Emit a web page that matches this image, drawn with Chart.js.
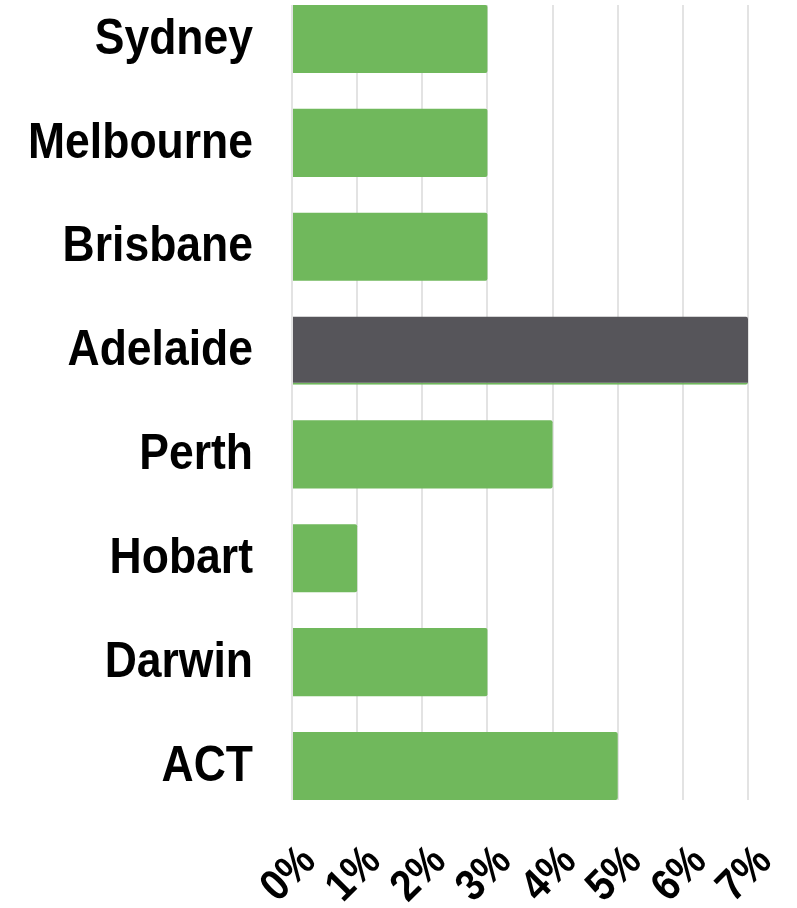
<!DOCTYPE html>
<html>
<head>
<meta charset="utf-8">
<script src="https://cdn.jsdelivr.net/npm/chart.js@4"></script>
<style>
  html, body { margin: 0; padding: 0; background: #fff; }
  #wrap { width: 797px; height: 908px; }
</style>
</head>
<body>
<div id="wrap"><canvas id="myChart"></canvas></div>
<script>
// cities and their values (percent)
const cities = ['Sydney', 'Melbourne', 'Brisbane', 'Adelaide', 'Perth', 'Hobart', 'Darwin', 'ACT'];
const values = [3, 3, 3, 7, 4, 1, 3, 5];
const xTicks = [0, 1, 2, 3, 4, 5, 6, 7];
const highlight = 'Adelaide';

const FONT = '"Liberation Sans", Arial, sans-serif';
const GREEN = '#70b85c';
const DARK = '#56555a';
const GRID = '#e3e3e3';
const SQUEEZE = 0.89; // no condensed font installed, so squeeze text horizontally

// draw all text a bit narrower (condensed look)
const origFillText = CanvasRenderingContext2D.prototype.fillText;
CanvasRenderingContext2D.prototype.fillText = function (text, x, y, maxWidth) {
  this.save();
  this.translate(x, y);
  this.scale(SQUEEZE, 1);
  origFillText.call(this, text, 0, 0);
  this.restore();
};

Chart.defaults.font.family = FONT;
Chart.defaults.color = '#000';

const ctx = document.getElementById('myChart').getContext('2d');

const myChart = new Chart(ctx, {
  type: 'bar',
  data: {
    labels: cities,
    datasets: [{
      data: values,
      backgroundColor: cities.map(c => c === highlight ? DARK : GREEN),
      // the highlighted bar keeps a thin green edge underneath
      borderColor: GREEN,
      borderWidth: cities.map(c => c === highlight ? { bottom: 2, top: 0, left: 0, right: 0 } : 0),
      borderRadius: 2,
      borderSkipped: 'start',
      categoryPercentage: 0.8,
      barPercentage: 0.82,
      clip: false
    }]
  },
  options: {
    indexAxis: 'y',
    responsive: true,
    maintainAspectRatio: false,
    animation: false,
    layout: { padding: { top: 5, right: 49, left: 0, bottom: 0 } },
    plugins: {
      legend: { display: false },
      tooltip: { enabled: false }
    },
    scales: {
      x: {
        type: 'linear',
        min: 0,
        max: 7,
        afterBuildTicks: s => { s.ticks = xTicks.map(v => ({ value: v })); },
        afterFit: s => { s.height = 142; s.paddingLeft = 0; s.paddingRight = 0; },
        border: { display: false },
        grid: { color: GRID, lineWidth: 2, tickLength: 34 },
        ticks: {
          autoSkip: false,
          maxRotation: 45,
          minRotation: 45,
          padding: 36,
          labelOffset: 17,
          font: { size: 44, weight: 'bold' },
          callback: v => v + '%'
        }
      },
      xTop: {
        type: 'linear',
        position: 'top',
        min: 0,
        max: 7,
        afterBuildTicks: s => { s.ticks = xTicks.map(v => ({ value: v })); },
        afterFit: s => { s.height = 34; s.paddingLeft = 0; s.paddingRight = 0; },
        border: { display: false },
        grid: { color: GRID, lineWidth: 2, tickLength: 34, drawOnChartArea: false },
        ticks: { display: false, autoSkip: false }
      },
      y: {
        offset: false,
        afterFit: s => { s.width = 292; s.paddingTop = 0; s.paddingBottom = 0; },
        border: { display: false },
        grid: { display: false, drawTicks: false },
        ticks: {
          padding: 39,
          labelOffset: 1,
          font: { size: 50, weight: 'bold' }
        }
      }
    }
  }
});
</script>
</body>
</html>
